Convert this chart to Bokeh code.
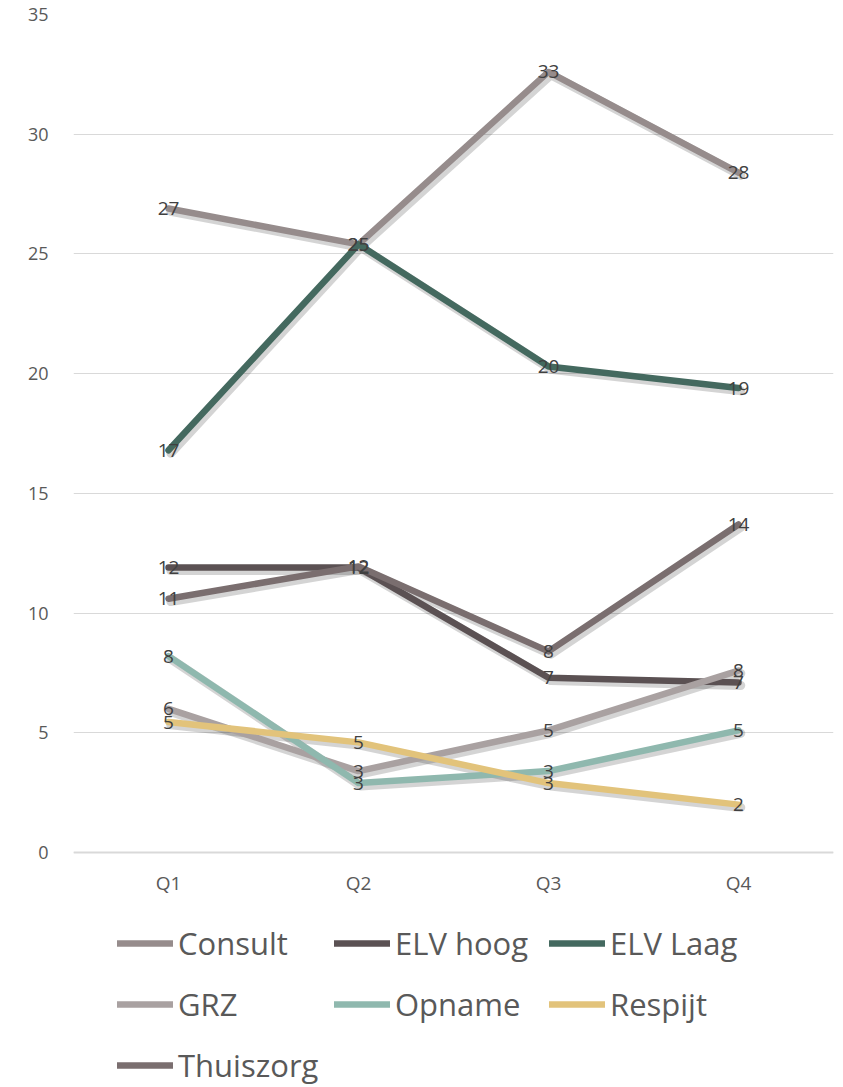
from bokeh.plotting import figure
from bokeh.models import FactorRange, Range1d, Legend, LegendItem, FixedTicker
from bokeh.transform import dodge
from bokeh.core.properties import value
from bokeh.embed import file_html
from bokeh.resources import INLINE

# ---- data ----
quarters = ["Q1", "Q2", "Q3", "Q4"]
series_names = ["Consult", "ELV hoog", "ELV Laag", "GRZ", "Opname", "Respijt", "Thuiszorg"]
consult = [26.9, 25.4, 32.6, 28.4]
elv_hoog = [11.9, 11.9, 7.3, 7.1]
elv_laag = [16.8, 25.4, 20.3, 19.4]
grz = [6.0, 3.4, 5.1, 7.6]
opname = [8.2, 2.9, 3.4, 5.1]
respijt = [5.45, 4.6, 2.9, 2.0]
thuiszorg = [10.6, 11.95, 8.4, 13.7]
y_ticks = [0, 5, 10, 15, 20, 25, 30, 35]

series_values = [consult, elv_hoog, elv_laag, grz, opname, respijt, thuiszorg]
colors = ["#968C8C", "#5B5153", "#44695F", "#A9A1A1", "#8FB8AE", "#E2C37B", "#7A6E6F"]

FONT = "Open Sans"

# ---- layout (pixels) ----
W, H_FIG = 843, 1087
TOP, LEFT, RIGHT = 14, 73, 10
ZERO_PX = 852          # page y of value 0
Y_MAX = 35
px_per_unit = (ZERO_PX - TOP) / Y_MAX
y_min = -(H_FIG - ZERO_PX) / px_per_unit   # frame extends below 0 to hold legend

p = figure(
    x_range=FactorRange(*quarters),
    y_range=Range1d(y_min, Y_MAX),
    width=W, height=H_FIG,
    min_border_left=LEFT, min_border_right=RIGHT, min_border_top=TOP, min_border_bottom=0,
    output_backend="svg", toolbar_location=None,
)
p.outline_line_color = None
p.background_fill_color = "white"
p.border_fill_color = "white"

# grid / axes
p.xgrid.grid_line_color = None
p.ygrid.grid_line_color = "#D9D9D9"
p.ygrid.grid_line_width = 1
p.ygrid.ticker = FixedTicker(ticks=y_ticks)
p.yaxis.ticker = FixedTicker(ticks=y_ticks)
p.yaxis.axis_line_color = None
p.yaxis.major_tick_line_color = None
p.yaxis.minor_tick_line_color = None
p.yaxis.major_label_text_font = FONT
p.yaxis.major_label_text_font_size = "18px"
p.yaxis.major_label_text_color = "#595959"
p.yaxis.major_label_standoff = 19

p.xaxis.fixed_location = 0
p.xaxis.axis_line_color = "#D9D9D9"
p.xaxis.axis_line_width = 2
p.xaxis.major_tick_line_color = None
p.xaxis.minor_tick_line_color = None
p.xaxis.major_label_text_font = FONT
p.xaxis.major_label_text_font_size = "19px"
p.xaxis.major_label_text_color = "#595959"
p.xaxis.major_label_standoff = 11

# shadows
for vals in series_values:
    p.line(x=dodge("x", 0.012, range=p.x_range), y="y",
           source=dict(x=quarters, y=[v - 0.12 for v in vals]),
           line_color="#000000", line_alpha=0.17, line_width=9,
           line_join="round", line_cap="round")

# lines
renderers = []
for name, vals, col in zip(series_names, series_values, colors):
    r = p.line(x=quarters, y=vals, line_color=col, line_width=6.5,
               line_join="round", line_cap="round")
    renderers.append(r)

# data labels
for vals in series_values:
    p.text(x=quarters, y=vals, text=[f"{v:.0f}" for v in vals],
           text_align="center", text_baseline="middle",
           text_font=value(FONT), text_font_size="19px", text_color="#404040")

# legend: three columns
col_groups = [[0, 3, 6], [1, 4], [2, 5]]
col_x = [44, 261, 476]
item_h = 44
gap = 17
legend_top_from_bottom = H_FIG - 921
for grp, cx in zip(col_groups, col_x):
    n = len(grp)
    Hl = n * item_h + (n - 1) * gap
    leg = Legend(
        items=[LegendItem(label=series_names[i], renderers=[renderers[i]]) for i in grp],
        location=(cx, legend_top_from_bottom - Hl),
        orientation="vertical",
        label_text_font=FONT, label_text_font_size="31px", label_text_color="#595959",
        glyph_width=56, glyph_height=item_h, label_height=item_h,
        label_standoff=5, spacing=gap, padding=0, margin=0,
        border_line_color=None, background_fill_alpha=0,
    )
    p.add_layout(leg)

open("out.html", "w").write(file_html(p, INLINE))
